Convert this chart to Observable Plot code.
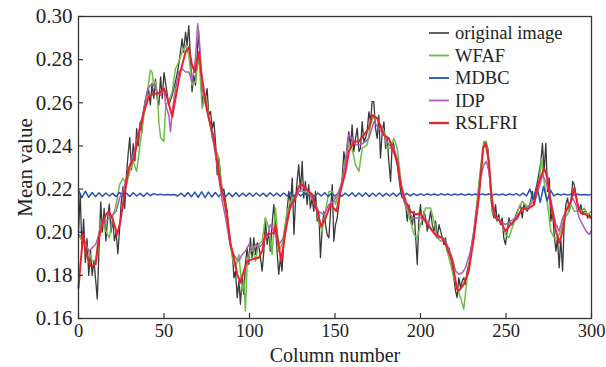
<!DOCTYPE html>
<html>
<head>
<meta charset="utf-8">
<script src="https://cdn.jsdelivr.net/npm/d3@7"></script>
<script src="https://cdn.jsdelivr.net/npm/@observablehq/plot@0.6"></script>
<style>
  html, body { margin: 0; padding: 0; background: #fff; }
  #wrap { position: relative; width: 606px; height: 367px; }
  #legend { position: absolute; left: 0; top: 0; pointer-events: none; }
</style>
</head>
<body>
<div id="wrap"></div>
<script>
const xTicks = [0, 50, 100, 150, 200, 250, 300];
const yTicks = [0.16, 0.18, 0.20, 0.22, 0.24, 0.26, 0.28, 0.30];
const seriesNames = ["original image", "WFAF", "MDBC", "IDP", "RSLFRI"];
const seriesColors = ["#383838", "#6cbf45", "#2651b0", "#b05cb8", "#ec2227"];
const seriesWidths = [1.3, 1.5, 1.5, 1.5, 2];

const originalImage = [[0,0.200],[1,0.218],[2,0.192],[3,0.206],[4,0.186],[5,0.197],[6,0.180],[7,0.192],[8,0.180],[9,0.187],[10,0.178],[11,0.169],[12,0.192],[13,0.214],[14,0.200],[15,0.211],[16,0.196],[17,0.206],[18,0.213],[19,0.200],[20,0.206],[21,0.196],[22,0.200],[23,0.190],[24,0.201],[25,0.214],[26,0.221],[27,0.211],[28,0.226],[29,0.236],[30,0.244],[31,0.229],[32,0.241],[33,0.233],[34,0.248],[35,0.240],[36,0.251],[37,0.246],[38,0.256],[39,0.261],[40,0.263],[41,0.266],[42,0.259],[43,0.269],[44,0.262],[45,0.271],[46,0.262],[47,0.259],[48,0.272],[49,0.262],[50,0.274],
[52.8,0.259],[54.8,0.2635],[56.7,0.2697],[58.6,0.2774],[60.6,0.2897],[61.5,0.2835],[62.6,0.2928],[63.5,0.2866],[64.5,0.2958],[65.4,0.2820],[66.4,0.2651],[67.4,0.2728],[68.4,0.2682],[69.3,0.2805],[70.2,0.2935],[71.3,0.2774],[72.3,0.2589],[73.3,0.2651],[74.3,0.2620],[75.2,0.2666],[76.2,0.2543],[77.2,0.2560],[78.2,0.2482],[79.2,0.2512],[80.1,0.2420],[81.1,0.2266],[82.1,0.2343],[83.1,0.2250],[84.1,0.2189],[85,0.2200],[86,0.2143],[87,0.2097],[88,0.1974],[89,0.1928],[89.9,0.1912],[90.9,0.1789],[91.8,0.1820],[92.8,0.1697],[93.8,0.1774],[94.7,0.1666],[95.7,0.1789],[96.7,0.1712],[97.6,0.1851],[98.6,0.1928],[99.6,0.1851],[100.5,0.1974],[101.5,0.1882],[102.5,0.1974],[103.5,0.1897],[104.5,0.1950],[105.4,0.1943],[106.4,0.1882],[107.4,0.1820],[108.4,0.1912],[109.3,0.2066],[110.3,0.1943],[111.3,0.2005],[112.2,0.1912],[113.2,0.2035],[114.2,0.2128],[115.2,0.2035],[116.1,0.1912],[117.1,0.1805],[118.1,0.1882],[119,0.1820],[120,0.1943],[121.6,0.2066],[123,0.2189],[124,0.2128],[125,0.2251],[126,0.1989],[127,0.2158],[128,0.2251],[128.8,0.2312],[129.8,0.2189],[130.8,0.2328],[131.7,0.2158],[132.7,0.2235],[133.7,0.2128],[134.6,0.2220],[135.6,0.2112],[136.6,0.2158],[137.6,0.2097],[138.6,0.2189],[139.6,0.2051],[140.5,0.2097],[141.5,0.1882],[142.5,0.2020],[143.5,0.2097],[144.5,0.2035],[145.4,0.1989],[146.4,0.1974],[147.4,0.2097],[148.4,0.2220],[149.3,0.1958],[150.3,0.2035],[151.3,0.2066],[152.2,0.2128],[153.2,0.2189],[154.2,0.2251],[155.2,0.2374],[156.2,0.2312],[157.1,0.2405],[158.1,0.2466],[159.1,0.2389],[160,0.2497],[161,0.2374],[162,0.2435],[163,0.2482],[164,0.2374],[164.9,0.2389],[165.9,0.2512],[166.9,0.2420],[167.8,0.2435],[168.8,0.2466],[169.8,0.2558],[170.8,0.2512],[171.7,0.2605],[172.7,0.2605],[173.7,0.2482],[174.7,0.2435],[175.6,0.2543],[176.6,0.2343],[177.6,0.2466],[178.6,0.2512],[179.6,0.2389],[180.5,0.2435],[181.5,0.2328],[182.5,0.2235],[183.5,0.2420],[184.4,0.2405],[185.4,0.2343],[186.4,0.2312],[187.4,0.2251],[188.4,0.2189],[189.3,0.2158],[190.3,0.2158],[191.3,0.2128],[192.3,0.2051],[193.2,0.2128],[194.2,0.2066],[195.2,0.2035],[196.2,0.2097],[197.2,0.1974],[198.1,0.1851],[199.1,0.2066],[200,0.2128],[201,0.2035],[202,0.2097],[203,0.2066],[204,0.2005],[205,0.2051],[205.9,0.2097],[206.9,0.2035],[207.9,0.2005],[208.8,0.2051],[209.8,0.1974],[210.8,0.2035],[211.8,0.2005],[212.7,0.1974],[213.7,0.1943],[214.6,0.1974],[215.6,0.1912],[216.6,0.1928],[217.6,0.1882],[218.5,0.1851],[219.5,0.1789],[220.5,0.1728],[221.4,0.1697],[222.4,0.1789],[223.4,0.1743],[224.4,0.1774],[225.3,0.1789],[226.3,0.1758],[227.3,0.1820],[228.2,0.1851],[229.2,0.1882],[230.2,0.1943],[231.2,0.1989],[233.1,0.2128],[235.1,0.2282],[237,0.2405],[238,0.2420],[239.4,0.2389],[241,0.2189],[241.9,0.2097],[243,0.2066],[243.9,0.2128],[244.8,0.2051],[245.8,0.2082],[246.8,0.2035],[247.8,0.2066],[248.7,0.1974],[249.7,0.1943],[250.7,0.2005],[251.7,0.2066],[252.6,0.2035],[253.6,0.2035],[254.6,0.2051],[256.6,0.2097],[258.5,0.2128],[259.5,0.2066],[260.5,0.2128],[261.4,0.2112],[262.4,0.2097],[264.4,0.2143],[265.4,0.2189],[266.4,0.2128],[267.3,0.2189],[268.8,0.2251],[270.4,0.2328],[271.3,0.2412],[272.3,0.2282],[273.3,0.2412],[274.3,0.2189],[275.3,0.2251],[276.2,0.2051],[277.2,0.2097],[278.2,0.1989],[279.2,0.1912],[280.1,0.1974],[281.1,0.1835],[282,0.1974],[283.1,0.1820],[284,0.2035],[285,0.2128],[286,0.2158],[287,0.2097],[288,0.2143],[289,0.2235],[289.9,0.2220],[290.9,0.2174],[291.9,0.2128],[292.8,0.2097],[293.8,0.2128],[294.8,0.2082],[295.8,0.2097],[296.8,0.2097],[297.7,0.2066],[298.7,0.2082],[299.7,0.2066]];

const wfaf = [[0,0.1989],[2,0.1960],[4,0.1943],[6,0.1912],[8,0.1866],[10,0.1866],[12,0.2005],[14,0.2051],[16,0.2005],[18,0.1974],[20,0.2066],[22,0.2128],[24,0.2220],[26,0.2251],[28,0.2220],[30,0.2282],[32,0.2328],[34,0.2282],[36,0.2405],[38,0.2528],[40,0.2635],[42,0.2751],[43,0.2743],[44,0.2682],[45,0.2697],[46,0.2651],[47,0.2512],[48,0.2440],[49.9,0.2420],[51,0.2589],[52.8,0.2605],[54.8,0.2651],[56.7,0.2758],[58.6,0.2789],[60.6,0.2835],[62.6,0.2866],[64.5,0.2820],[66.4,0.2682],[68.4,0.2697],[70.4,0.2820],[72.3,0.2574],[74.3,0.2635],[76.2,0.2543],[78.2,0.2435],[80.1,0.2389],[82.1,0.2343],[84.1,0.2189],[86,0.2128],[88,0.2005],[89.9,0.1882],[91.8,0.1835],[93.8,0.1897],[95.7,0.1728],[96.7,0.1774],[97.6,0.1635],[98.6,0.1851],[99.6,0.1882],[101.5,0.1943],[103.5,0.1866],[105.4,0.1943],[107.4,0.1958],[109.3,0.2066],[111.3,0.2020],[113.2,0.1897],[115.2,0.2112],[117.1,0.1912],[119,0.1943],[122,0.2097],[125,0.2158],[128,0.2189],[130.8,0.2189],[133.7,0.2189],[136.6,0.2158],[138.6,0.2128],[140.5,0.2051],[142.4,0.2005],[144.5,0.2097],[146.4,0.2189],[148.4,0.2189],[150.3,0.2128],[152.2,0.2189],[154.2,0.2235],[156.2,0.2343],[158.1,0.2405],[160,0.2389],[162,0.2312],[164,0.2282],[165.9,0.2389],[168.8,0.2405],[170.8,0.2497],[172.7,0.2543],[174.7,0.2528],[176.6,0.2497],[178.6,0.2466],[180.5,0.2389],[182.5,0.2389],[184.4,0.2435],[186.4,0.2389],[188.4,0.2251],[190.3,0.2143],[192.3,0.2097],[194.2,0.2051],[196.2,0.1989],[198.1,0.1974],[200,0.2035],[203,0.2112],[205.9,0.2112],[207.9,0.2051],[209.8,0.1974],[211.8,0.1958],[213.7,0.1974],[215.6,0.1912],[217.6,0.1851],[219.5,0.1789],[221.4,0.1743],[223.4,0.1697],[225.3,0.1643],[227.3,0.1789],[229.2,0.1897],[231.2,0.2005],[233.1,0.2143],[235.1,0.2297],[237,0.2420],[238.6,0.2420],[240,0.2297],[241.9,0.2097],[243.9,0.2066],[245.8,0.2066],[247.8,0.2035],[249.7,0.1989],[251.7,0.1974],[253.6,0.2020],[255.6,0.2066],[257.5,0.2112],[259.5,0.2143],[261.4,0.2128],[263.4,0.2112],[265.4,0.2158],[267.3,0.2189],[269.3,0.2220],[270.7,0.2343],[272.3,0.2235],[274.3,0.2128],[276.2,0.2005],[278.2,0.1974],[280.1,0.1974],[282,0.2005],[284,0.2066],[286,0.2082],[288,0.2128],[289.9,0.2097],[291.9,0.2097],[293.8,0.2097],[295.8,0.2112],[297.7,0.2082],[299.7,0.2097]];

const mdbc = [[0,0.2195],[2,0.2160],[4,0.2190],[6,0.2162],[8,0.2184],[10,0.2165],[12,0.2183],[14,0.2166],[16,0.2182],[18,0.2168],[20,0.2180],[22,0.2165],[24,0.2184],[26,0.2167],[28,0.2181],[30,0.2166],[32,0.2183],[34,0.2168],[36,0.2180],[38,0.2166],[40,0.2182],[42,0.2169],[44,0.2179],[46,0.2173],[48,0.2176],[50,0.2172],[52,0.2175],[54,0.2172],[56,0.2175],[58,0.2168],[60,0.2181],[62,0.2166],[64,0.2184],[66,0.2164],[68,0.2186],[70,0.2162],[72,0.2187],[74,0.2160],[76,0.2186],[78,0.2163],[80,0.2184],[82,0.2165],[84,0.2183],[86,0.2166],[88,0.2182],[90,0.2165],[92,0.2183],[94,0.2166],[96,0.2181],[98,0.2167],[100,0.2182],[102,0.2167],[104,0.2182],[106,0.2168],[108,0.2181],[110,0.2166],[112,0.2183],[114,0.2168],[116,0.2181],[118,0.2167],[120,0.2182],[122,0.2168],[124,0.2183],[126,0.2166],[128,0.2181],[130,0.2168],[132,0.2182],[134,0.2167],[136,0.2180],[138,0.2166],[140,0.2182],[142,0.2168],[144,0.2183],[146,0.2166],[148,0.2181],[150,0.2168],[152,0.2182],[154,0.2167],[156,0.2181],[158,0.2168],[160,0.2183],[162,0.2166],[164,0.2182],[166,0.2167],[168,0.2183],[170,0.2166],[172,0.2181],[174,0.2168],[176,0.2182],[178,0.2167],[180,0.2180],[182,0.2168],[184,0.2181],[186,0.2167],[188,0.2181],[190,0.2168],[192,0.2180],[194,0.2169],[196,0.2179],[198,0.2170],[200,0.2178],[202,0.2171],[204,0.2178],[206,0.2172],[208,0.2177],[210,0.2171],[212,0.2178],[214,0.2172],[216,0.2177],[218,0.2171],[220,0.2177],[222,0.2172],[224,0.2178],[226,0.2171],[228,0.2177],[230,0.2172],[232,0.2177],[234,0.2171],[236,0.2178],[238,0.2172],[240,0.2178],[242,0.2171],[244,0.2177],[246,0.2172],[248,0.2177],[250,0.2171],[252,0.2178],[254,0.2172],[256,0.2179],[258,0.2170],[260,0.2181],[262,0.2168],[264,0.2200],[266,0.2148],[268,0.2215],[270,0.2138],[272,0.2212],[274,0.2145],[276,0.2195],[278,0.2168],[280,0.2178],[282,0.2172],[284,0.2177],[286,0.2172],[288,0.2176],[290,0.2173],[292,0.2176],[294,0.2173],[296,0.2175],[298,0.2173],[300,0.2175]];

const idp = [[0,0.1989],[3,0.1974],[6,0.1912],[8,0.1928],[10,0.1943],[12,0.1989],[14,0.2051],[16,0.2051],[18,0.2066],[20,0.2082],[22,0.2097],[24,0.2158],[26,0.2189],[28,0.2251],[30,0.2312],[32,0.2358],[34,0.2420],[36,0.2497],[38,0.2558],[40,0.2651],[42,0.2682],[44,0.2682],[46,0.2651],[48,0.2635],[50,0.2666],[51,0.2589],[52.8,0.2543],[53.8,0.2466],[54.8,0.2558],[56.7,0.2666],[58.6,0.2743],[60.6,0.2758],[62.6,0.2743],[64.5,0.2743],[66.4,0.2697],[68.4,0.2805],[69.7,0.2966],[70.9,0.2866],[72.3,0.2666],[74.3,0.2589],[76.2,0.2528],[78.2,0.2451],[80.1,0.2358],[82.1,0.2251],[84.1,0.2143],[86,0.2066],[88,0.1974],[89.9,0.1912],[91.8,0.1882],[93.8,0.1866],[95.7,0.1897],[97.6,0.1912],[99.6,0.1943],[101.5,0.1912],[103.5,0.1943],[105.4,0.1928],[107.4,0.1943],[109.3,0.1989],[110.3,0.1974],[112.2,0.2035],[114.2,0.2005],[117.1,0.1943],[120,0.1974],[123,0.2097],[126,0.2143],[128.8,0.2189],[131.7,0.2205],[134.6,0.2189],[137.6,0.2143],[140.5,0.2097],[143.5,0.2082],[146.4,0.2128],[149.3,0.2143],[152.2,0.2189],[154.2,0.2235],[156.2,0.2328],[158.1,0.2451],[160,0.2435],[162,0.2405],[164.9,0.2405],[167.8,0.2420],[169.8,0.2435],[172.7,0.2512],[175.6,0.2482],[178.6,0.2451],[181.5,0.2405],[184.4,0.2389],[186.4,0.2343],[188.4,0.2220],[190.3,0.2143],[192.3,0.2112],[195.2,0.2066],[198.1,0.2066],[201,0.2066],[204,0.2051],[206.9,0.2005],[209.8,0.1974],[212.7,0.1974],[215.6,0.1943],[218.5,0.1882],[220.5,0.1820],[222.4,0.1805],[224.4,0.1812],[226.3,0.1835],[229.2,0.1912],[231.2,0.2005],[233.1,0.2128],[235.1,0.2251],[237,0.2312],[238.6,0.2328],[240,0.2282],[241.9,0.2158],[243.9,0.2066],[246.8,0.2051],[249.7,0.2035],[252.6,0.2051],[255.6,0.2066],[258.5,0.2097],[261.4,0.2112],[264.4,0.2128],[267.3,0.2158],[269.3,0.2205],[271.3,0.2266],[273.3,0.2235],[275.3,0.2189],[277.2,0.2112],[279.2,0.2035],[281.1,0.2005],[283.1,0.2066],[285,0.2097],[287,0.2128],[289,0.2158],[290.9,0.2128],[292.8,0.2066],[294.8,0.2035],[296.8,0.2005],[298.7,0.1989],[299.7,0.2005]];

const rslfri = [[0,0.1743],[2.7,0.1989],[4.1,0.1912],[7,0.1843],[10,0.1851],[12,0.1974],[13.8,0.2035],[16,0.2080],[17.7,0.2097],[20,0.2060],[22.6,0.1989],[24.5,0.2050],[26.5,0.2158],[29.4,0.2297],[32.4,0.2343],[35.3,0.2451],[38.2,0.2558],[41.1,0.2628],[44.1,0.2643],[47,0.2643],[50,0.2666],[52,0.2620],[54.8,0.2535],[56.7,0.2620],[59.6,0.2743],[62.6,0.2835],[64.5,0.2858],[66.4,0.2774],[68,0.2743],[70.4,0.2835],[72.3,0.2712],[74.3,0.2605],[76.2,0.2528],[79.2,0.2435],[81.1,0.2328],[83.1,0.2220],[85,0.2158],[87,0.2066],[89,0.1943],[90.9,0.1882],[92.8,0.1805],[94.7,0.1766],[96.7,0.1820],[98.6,0.1866],[101.5,0.1874],[105.4,0.1882],[107.4,0.1912],[109.3,0.1989],[110.3,0.1989],[114.2,0.1997],[115.2,0.2035],[118.5,0.1866],[121,0.2000],[124,0.2128],[125.9,0.2143],[128.8,0.2212],[130.8,0.2220],[133.7,0.2197],[136.6,0.2174],[139.6,0.2097],[141.9,0.2028],[144.5,0.2066],[147.4,0.2128],[150.9,0.2097],[153.2,0.2189],[156.2,0.2282],[158.1,0.2374],[161,0.2420],[164,0.2420],[166.9,0.2451],[169.8,0.2482],[171.7,0.2543],[174.7,0.2528],[178.6,0.2451],[181.5,0.2435],[183.5,0.2389],[186.4,0.2328],[188.4,0.2220],[191.3,0.2143],[194.2,0.2097],[197.2,0.2082],[200,0.2089],[204,0.2035],[208.8,0.1989],[212.7,0.1974],[215.6,0.1928],[218.5,0.1866],[220.5,0.1774],[221.4,0.1735],[222.4,0.1728],[225.3,0.1758],[228.2,0.1820],[231.2,0.1974],[234.1,0.2158],[236.6,0.2389],[238,0.2412],[240,0.2328],[241.9,0.2128],[243.9,0.2066],[246.8,0.2051],[249.7,0.2005],[252.6,0.2035],[256.6,0.2066],[259.5,0.2112],[262.4,0.2105],[266.4,0.2128],[268.8,0.2220],[272.3,0.2297],[274.3,0.2251],[276.2,0.2128],[279.2,0.2005],[281.1,0.1951],[283.1,0.2005],[285,0.2097],[288,0.2143],[289.9,0.2205],[291.9,0.2128],[293.8,0.2089],[296.8,0.2082],[299.7,0.2066]];

const allSeries = [originalImage, wfaf, mdbc, idp, rslfri];

const W = 606, H = 367;
const mL = 78, mR = 15, mT = 16, mB = 49;
const frameW = W - mL - mR, frameH = H - mT - mB;
const tickLen = 5;
const FONT = "'Liberation Serif', 'Times New Roman', serif";

const lineMarks = allSeries.map((s, i) =>
  Plot.line(s, {x: d => d[0], y: d => d[1], stroke: seriesColors[i], strokeWidth: seriesWidths[i], strokeLinejoin: "round"})
);

const chart = Plot.plot({
  width: W, height: H,
  marginLeft: mL, marginRight: mR, marginTop: mT, marginBottom: mB,
  style: {fontFamily: FONT, fontSize: "19px", color: "#222", background: "#fff"},
  x: {domain: [0, 300]},
  y: {domain: [0.16, 0.30]},
  marks: [
    ...lineMarks,
    Plot.ruleX(xTicks, {x: d => d, insetTop: frameH - tickLen, stroke: "#333", strokeWidth: 1.2}),
    Plot.ruleY(yTicks, {y: d => d, insetRight: frameW - tickLen, stroke: "#333", strokeWidth: 1.2}),
    Plot.axisX(xTicks, {tickSize: 0, tickPadding: 5, fontSize: 18.5}),
    Plot.axisX({ticks: [], tickSize: 0, label: "Column number", labelAnchor: "center", labelArrow: "none", labelOffset: 43, fontSize: 20}),
    Plot.axisY(yTicks, {tickSize: 0, tickPadding: 6, tickFormat: d3.format(".2f"), label: "Mean value", labelAnchor: "center", labelArrow: "none", labelOffset: 61, fontSize: 21}),
    Plot.frame({stroke: "#333", strokeWidth: 1.3})
  ]
});

const wrap = document.getElementById("wrap");
wrap.appendChild(chart);

// Legend (top right, inside the plot area)
const legend = d3.select(wrap).append("svg")
  .attr("id", "legend")
  .attr("width", W).attr("height", H);
const rows = legend.selectAll("g").data(seriesNames).join("g")
  .attr("transform", (d, i) => `translate(429, ${33 + i * 22.5})`);
rows.append("line")
  .attr("x1", 0).attr("x2", 20).attr("y1", 0).attr("y2", 0)
  .attr("stroke", (d, i) => seriesColors[i])
  .attr("stroke-width", (d, i) => seriesWidths[i] + 0.3);
rows.append("text")
  .attr("x", 26).attr("y", 0).attr("dy", "0.35em")
  .attr("font-family", FONT).attr("font-size", 18.5).attr("fill", "#222")
  .text(d => d);
</script>
</body>
</html>
